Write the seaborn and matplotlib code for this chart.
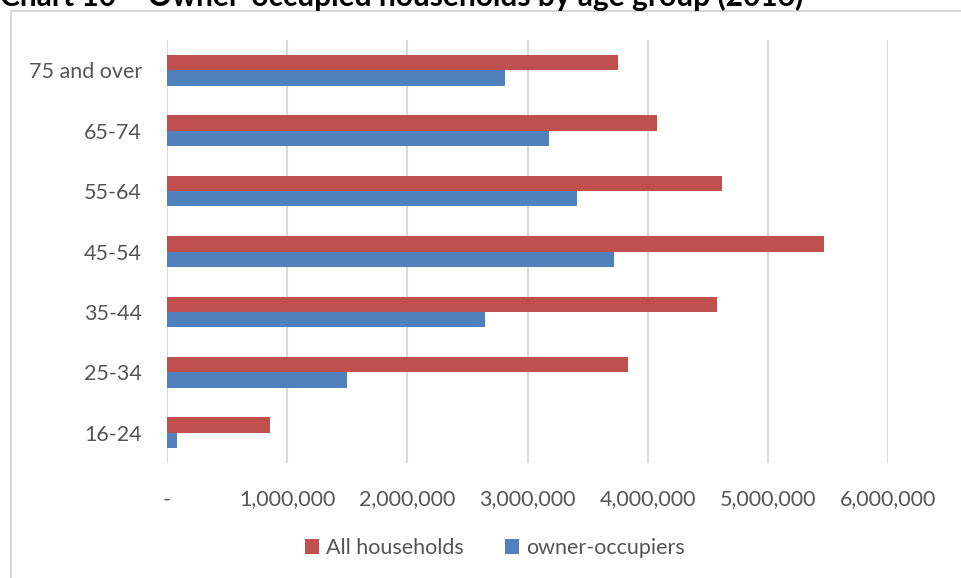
import matplotlib
matplotlib.use("Agg")
import matplotlib.pyplot as plt
from matplotlib.lines import Line2D
from matplotlib.ticker import FuncFormatter
import pandas as pd
import seaborn as sns

# Households by age group of household reference person (2016)
age_groups = ["75 and over", "65-74", "55-64", "45-54", "35-44", "25-34", "16-24"]
all_households = [3755000, 4080000, 4620000, 5470000, 4580000, 3840000, 855000]
owner_occupiers = [2810000, 3180000, 3410000, 3720000, 2650000, 1500000, 80000]
series_names = ["All households", "owner-occupiers"]
x_ticks = [0, 1000000, 2000000, 3000000, 4000000, 5000000, 6000000]

df = pd.DataFrame({
    "age": age_groups * 2,
    "households": all_households + owner_occupiers,
    "series": [series_names[0]] * len(age_groups) + [series_names[1]] * len(age_groups),
})

sns.set_theme(style="white")
plt.rcParams["font.family"] = ["Lato", "DejaVu Sans"]

W, H = 961, 578
fig = plt.figure(figsize=(W / 100, H / 100), dpi=100)
ax = fig.add_axes([167 / W, (H - 463) / H, (888 - 167) / W, (463 - 40) / H])

palette = {"All households": "#C0504D", "owner-occupiers": "#4F81BD"}
sns.barplot(data=df, y="age", x="households", hue="series", order=age_groups,
            hue_order=series_names, palette=palette, orient="h", width=0.51,
            saturation=1, ax=ax, legend=True, edgecolor="none")

text_col = "#555555"
ax.set_xlim(0, 6000000)
ax.set_xticks(x_ticks)
ax.xaxis.set_major_formatter(FuncFormatter(lambda v, p: "-" if v == 0 else f"{int(v):,}"))
ax.grid(axis="x", color="#D9D9D9", linewidth=1.5)
ax.set_axisbelow(True)
for s in ax.spines.values():
    s.set_visible(False)
ax.tick_params(axis="x", length=0, pad=19, labelsize=15.5, labelcolor=text_col)
ax.tick_params(axis="y", length=0, pad=18, labelsize=15.5, labelcolor=text_col)
ax.set_xlabel("")
ax.set_ylabel("")

handles, labels = ax.get_legend_handles_labels()
ax.get_legend().remove()
fig.legend(handles, labels, loc="center", bbox_to_anchor=(495 / W, 1 - 548 / H),
           ncol=2, frameon=False, fontsize=15.5, labelcolor=text_col,
           handlelength=0.65, handleheight=0.65, handletextpad=0.35, columnspacing=1.9)

# chart frame (continues past the right and bottom edges)
frame_col = "#D9D9D9"
fig.add_artist(Line2D([11 / W, 11 / W], [0, 1 - 11 / H], color=frame_col, linewidth=1.5))
fig.add_artist(Line2D([11 / W, 1], [1 - 11 / H, 1 - 11 / H], color=frame_col, linewidth=1.5))

fig.text(0, 1 - 6 / H, "Chart 10 \u2013 Owner-occupied households by age group (2016)",
         fontsize=21.5, fontweight="bold", color="black", ha="left", va="baseline")

fig.savefig("out.png", dpi=100)
